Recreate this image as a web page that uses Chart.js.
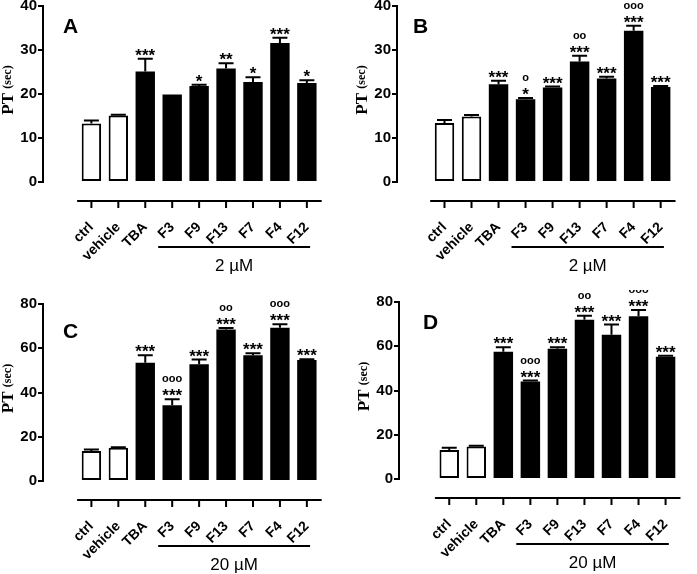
<!DOCTYPE html>
<html>
<head>
<meta charset="utf-8">
<script src="https://cdn.jsdelivr.net/npm/chart.js@4"></script>
<style>
  html, body { margin: 0; padding: 0; background: #fff; }
  #wrap { position: relative; width: 697px; height: 574px; overflow: hidden; }
  #wrap canvas { position: absolute; }
</style>
</head>
<body>
<div id="wrap">
  <canvas id="painelA" width="349" height="290" style="left:0;top:0"></canvas>
  <canvas id="painelB" width="348" height="290" style="left:349px;top:0"></canvas>
  <canvas id="painelC" width="349" height="284" style="left:0;top:290px"></canvas>
  <canvas id="painelD" width="348" height="284" style="left:349px;top:290px"></canvas>
</div>
<script>
// categorias comuns aos quatro painéis
const categorias = ['ctrl', 'vehicle', 'TBA', 'F3', 'F9', 'F13', 'F7', 'F4', 'F12'];

// A - 2 µM
const mediaA = [13.3, 15.1, 25.1, 19.9, 21.8, 25.8, 22.7, 31.6, 22.5];
const semA = [0.7, 0.2, 2.9, 0, 0.3, 1.2, 1.1, 1.2, 0.6];
const estrelasA = ['', '', '***', '', '*', '**', '*', '***', '*'];
const circulosA = ['', '', '', '', '', '', '', '', ''];

// B - 2 µM
const mediaB = [13.4, 14.9, 22.2, 18.8, 21.5, 27.4, 23.5, 34.4, 21.6];
const semB = [0.7, 0.3, 0.8, 0.3, 0.2, 1.3, 0.4, 1.1, 0.2];
const estrelasB = ['', '', '***', '*', '***', '***', '***', '***', '***'];
const circulosB = ['', '', '', 'o', '', 'oo', '', 'ooo', ''];

// C - 20 µM
const mediaC = [13.6, 15.0, 53.5, 34.2, 52.8, 68.5, 56.8, 69.3, 54.7];
const semC = [0.6, 0.3, 3.3, 2.8, 2.1, 0.6, 0.9, 1.5, 0.3];
const estrelasC = ['', '', '***', '***', '***', '***', '***', '***', '***'];
const circulosC = ['', '', '', 'ooo', '', 'oo', '', 'ooo', ''];

// D - 20 µM
const mediaD = [13.1, 14.7, 57.5, 44.1, 58.9, 72.0, 65.2, 73.6, 55.3];
const semD = [1.0, 0.3, 2.0, 0.4, 0.6, 1.8, 4.6, 2.8, 0.4];
const estrelasD = ['', '', '***', '***', '***', '***', '***', '***', '***'];
const circulosD = ['', '', '', 'ooo', '', 'oo', '', 'ooo', ''];

const FONTE = "'Liberation Sans', Arial, sans-serif";
const FONTE_SERIF = "'Liberation Serif', 'Times New Roman', serif";

// desenha barras de erro, anotações, eixo x destacado, linha de grupo, letra e título do eixo y
const extrasPainel = {
  id: 'extrasPainel',
  afterDatasetsDraw(chart, args, opts) {
    const ctx = chart.ctx;
    const x = chart.scales.x;
    const y = chart.scales.y;
    ctx.save();
    ctx.strokeStyle = '#000';
    ctx.fillStyle = '#000';
    ctx.lineWidth = 2;
    opts.media.forEach((m, i) => {
      const px = x.getPixelForValue(i);
      const yTopo = y.getPixelForValue(m + opts.sem[i]);
      if (opts.sem[i] > 0) {
        ctx.beginPath();
        ctx.moveTo(px, y.getPixelForValue(m));
        ctx.lineTo(px, yTopo);
        ctx.moveTo(px - 7.5, yTopo);
        ctx.lineTo(px + 7.5, yTopo);
        ctx.stroke();
      }
      ctx.textAlign = 'center';
      ctx.textBaseline = 'alphabetic';
      if (opts.estrelas[i]) {
        ctx.font = 'bold 17px ' + FONTE;
        ctx.fillText(opts.estrelas[i], px, yTopo + 2);
      }
      if (opts.circulos[i]) {
        ctx.font = 'bold 11px ' + FONTE;
        ctx.fillText(opts.circulos[i], px, yTopo - 17);
      }
    });
    ctx.restore();
  },
  afterDraw(chart, args, opts) {
    const ctx = chart.ctx;
    const x = chart.scales.x;
    const y = chart.scales.y;
    const zero = y.getPixelForValue(0);
    ctx.save();
    ctx.strokeStyle = '#000';
    ctx.fillStyle = '#000';
    ctx.lineWidth = 2;
    // eixo x separado do eixo y
    const yEixo = zero + 19;
    ctx.beginPath();
    ctx.moveTo(x.getPixelForValue(-0.53), yEixo);
    ctx.lineTo(x.getPixelForValue(8.55), yEixo);
    categorias.forEach((c, i) => {
      ctx.moveTo(x.getPixelForValue(i), yEixo);
      ctx.lineTo(x.getPixelForValue(i), yEixo + 7);
    });
    ctx.stroke();
    // linha do grupo de concentração
    ctx.beginPath();
    ctx.moveTo(x.getPixelForValue(2.48), zero + 65);
    ctx.lineTo(x.getPixelForValue(8.12), zero + 65);
    ctx.stroke();
    ctx.font = '17px ' + FONTE;
    ctx.textAlign = 'center';
    ctx.textBaseline = 'alphabetic';
    ctx.fillText(opts.grupo, x.getPixelForValue(5.3), zero + 89);
    // letra do painel
    ctx.font = 'bold 21px ' + FONTE;
    ctx.textAlign = 'left';
    ctx.fillText(opts.letra, opts.letraX, opts.letraY);
    // título do eixo y: "PT" maior e "(sec)" menor
    const cy = (chart.chartArea.top + chart.chartArea.bottom) / 2 - 4;
    ctx.translate(chart.chartArea.left - 35, cy);
    ctx.rotate(-Math.PI / 2);
    ctx.textBaseline = 'middle';
    ctx.font = 'bold 17px ' + FONTE_SERIF;
    const w1 = ctx.measureText('PT ').width;
    ctx.font = 'bold 12px ' + FONTE_SERIF;
    const w2 = ctx.measureText('(sec)').width;
    const inicio = -(w1 + w2) / 2;
    ctx.font = 'bold 17px ' + FONTE_SERIF;
    ctx.fillText('PT ', inicio, 1);
    ctx.font = 'bold 12px ' + FONTE_SERIF;
    ctx.fillText('(sec)', inicio + w1, 0);
    ctx.restore();
  }
};

function criarPainel(id, cfg) {
  const canvas = document.getElementById(id);
  const W = canvas.width, H = canvas.height;
  const xMin = -(cfg.cat0 - cfg.eixoX) / cfg.passo;
  const xMax = 8.55;
  const direita = cfg.eixoX + (xMax - xMin) * cfg.passo;
  return new Chart(canvas, {
    type: 'bar',
    data: {
      datasets: [{
        data: cfg.media.map((v, i) => ({ x: i, y: v })),
        backgroundColor: cfg.media.map((v, i) => i < 2 ? '#fff' : '#000'),
        borderColor: '#000',
        borderWidth: cfg.media.map((v, i) => i < 2 ? 2 : 0),
        borderSkipped: false,
        barPercentage: 0.72,
        categoryPercentage: 1
      }]
    },
    options: {
      responsive: false,
      animation: false,
      devicePixelRatio: 1,
      layout: { padding: { left: 0, top: cfg.topo, right: W - direita, bottom: 0 } },
      plugins: {
        legend: { display: false },
        tooltip: { enabled: false },
        extrasPainel: {
          media: cfg.media, sem: cfg.sem, estrelas: cfg.estrelas, circulos: cfg.circulos,
          grupo: cfg.grupo, letra: cfg.letra, letraX: cfg.letraX, letraY: cfg.letraY
        }
      },
      scales: {
        x: {
          type: 'linear',
          min: xMin,
          max: xMax,
          grid: { display: false },
          border: { display: false },
          afterBuildTicks: (s) => { s.ticks = categorias.map((c, i) => ({ value: i })); },
          afterFit: (s) => { s.height = H - cfg.zero; s.paddingLeft = 0; s.paddingRight = 0; },
          ticks: {
            autoSkip: false,
            minRotation: 45,
            maxRotation: 45,
            padding: 29,
            color: '#000',
            font: { family: FONTE, size: 14, weight: 'bold' },
            callback: (v) => categorias[v]
          }
        },
        y: {
          min: 0,
          max: cfg.yMax,
          grid: { drawOnChartArea: false, drawTicks: true, tickLength: 5, color: '#000', lineWidth: 2 },
          border: { display: true, color: '#000', width: 2 },
          afterFit: (s) => { s.width = cfg.eixoX; s.paddingTop = 0; s.paddingBottom = 0; },
          ticks: {
            stepSize: cfg.yMax / 4,
            padding: 1,
            color: '#000',
            font: { family: FONTE, size: 15, weight: 'bold' }
          }
        }
      }
    },
    plugins: [extrasPainel]
  });
}

criarPainel('painelA', {
  media: mediaA, sem: semA, estrelas: estrelasA, circulos: circulosA,
  eixoX: 43, topo: 6, zero: 182, cat0: 79, passo: 30.3, yMax: 40,
  grupo: '2 µM', letra: 'A', letraX: 63, letraY: 33
});
criarPainel('painelB', {
  media: mediaB, sem: semB, estrelas: estrelasB, circulos: circulosB,
  eixoX: 48, topo: 6, zero: 182, cat0: 83, passo: 30.4, yMax: 40,
  grupo: '2 µM', letra: 'B', letraX: 64, letraY: 33
});
criarPainel('painelC', {
  media: mediaC, sem: semC, estrelas: estrelasC, circulos: circulosC,
  eixoX: 43, topo: 14, zero: 191, cat0: 79, passo: 30.3, yMax: 80,
  grupo: '20 µM', letra: 'C', letraX: 63, letraY: 48
});
criarPainel('painelD', {
  media: mediaD, sem: semD, estrelas: estrelasD, circulos: circulosD,
  eixoX: 50, topo: 12, zero: 189, cat0: 88, passo: 30.5, yMax: 80,
  grupo: '20 µM', letra: 'D', letraX: 74, letraY: 39
});
</script>
</body>
</html>
